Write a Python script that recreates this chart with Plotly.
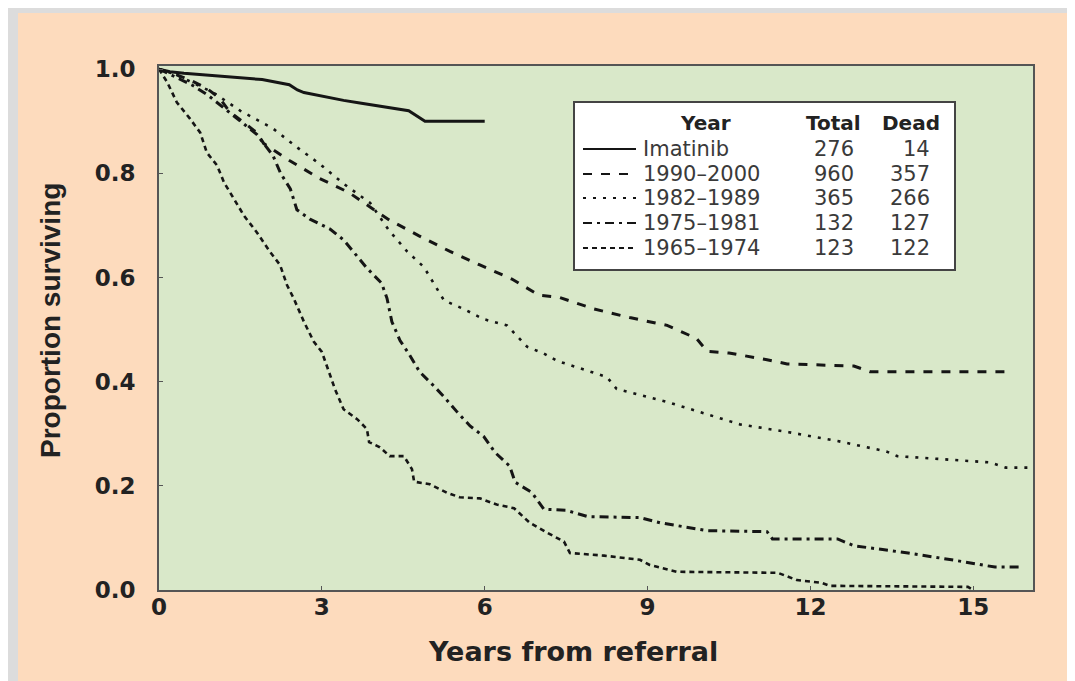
import plotly.graph_objects as go

# ---------------- data ----------------
imatinib_t = [0, 0.2, 0.46, 0.94, 1.9, 2.4, 2.55, 2.67, 2.9, 3.4, 3.7, 4.6, 4.9, 6.0]
imatinib_s = [1.0, 0.995, 0.992, 0.988, 0.98, 0.97, 0.96, 0.955, 0.95, 0.94, 0.935, 0.92, 0.90, 0.90]

y1990_t = [0, 0.3, 0.57, 0.88, 1.12, 1.31, 1.56, 1.8, 1.93, 2.41, 2.96, 3.5, 3.96, 4.25, 4.79,
           5.36, 5.91, 6.5, 7.0, 7.37, 8.0, 8.67, 9.36, 9.9, 10.1, 10.5, 11.2, 11.57, 12.8, 13.1, 15.6]
y1990_s = [1.0, 0.99, 0.979, 0.963, 0.944, 0.917, 0.898, 0.878, 0.857, 0.824, 0.79, 0.763, 0.73, 0.71, 0.68,
           0.65, 0.624, 0.597, 0.566, 0.562, 0.54, 0.523, 0.508, 0.483, 0.458, 0.455, 0.442, 0.434, 0.43, 0.419, 0.419]

y1982_t = [0, 0.3, 0.6, 1.0, 1.5, 2.1, 2.54, 2.96, 3.4, 3.89, 4.24, 4.57, 4.88, 5.06, 5.25, 5.6,
           5.98, 6.41, 6.78, 7.09, 7.33, 8.25, 8.43, 9.36, 10.7, 11.6, 12.5, 13.4, 13.6, 15.3, 15.6, 16.1]
y1982_s = [1.0, 0.99, 0.975, 0.955, 0.92, 0.886, 0.85, 0.818, 0.78, 0.743, 0.69, 0.65, 0.62, 0.589, 0.556, 0.54,
           0.52, 0.508, 0.467, 0.454, 0.44, 0.409, 0.386, 0.361, 0.318, 0.303, 0.286, 0.266, 0.257, 0.245, 0.235, 0.235]

y1975_t = [0, 0.3, 0.6, 0.9, 1.2, 1.5, 1.8, 1.93, 2.1, 2.24, 2.42, 2.54, 2.78, 3.15, 3.4, 3.6, 3.83,
           4.1, 4.2, 4.29, 4.44, 4.6, 4.8, 5.06, 5.25, 5.49, 5.73, 5.98, 6.19, 6.46, 6.56, 6.87, 7.09,
           7.5, 7.9, 8.86, 9.23, 10.1, 11.2, 11.3, 12.5, 12.8, 13.8, 14.6, 15.4, 15.9]
y1975_s = [1.0, 0.985, 0.97, 0.95, 0.925, 0.9, 0.875, 0.857, 0.834, 0.80, 0.77, 0.73, 0.712, 0.693, 0.672, 0.647, 0.618,
           0.589, 0.56, 0.515, 0.479, 0.454, 0.419, 0.392, 0.371, 0.342, 0.315, 0.295, 0.264, 0.238, 0.207, 0.187, 0.155,
           0.153, 0.141, 0.139, 0.129, 0.114, 0.112, 0.098, 0.098, 0.085, 0.071, 0.058, 0.044, 0.044]

y1965_t = [0, 0.15, 0.33, 0.57, 0.76, 0.88, 1.07, 1.2, 1.38, 1.57, 1.8, 2.04, 2.23, 2.36, 2.48, 2.67, 2.85,
           3.0, 3.13, 3.24, 3.4, 3.65, 3.83, 3.87, 4.07, 4.25, 4.51, 4.66, 4.7, 4.99, 5.3, 5.54, 5.91,
           6.22, 6.54, 6.83, 7.15, 7.46, 7.57, 8.2, 8.86, 9.04, 9.54, 11.4, 11.75, 12.2, 12.36, 14.9, 15.0]
y1965_s = [1.0, 0.975, 0.936, 0.905, 0.878, 0.84, 0.815, 0.782, 0.751, 0.718, 0.687, 0.65, 0.624, 0.585, 0.56, 0.515, 0.477,
           0.457, 0.419, 0.386, 0.347, 0.328, 0.309, 0.284, 0.274, 0.257, 0.257, 0.232, 0.208, 0.203, 0.187, 0.178, 0.176,
           0.164, 0.157, 0.129, 0.11, 0.093, 0.071, 0.066, 0.058, 0.048, 0.035, 0.033, 0.019, 0.014, 0.008, 0.006, 0.0]

series_names = ["Imatinib", "1990\u20132000", "1982\u20131989", "1975\u20131981", "1965\u20131974"]
series_total = [276, 960, 365, 132, 123]
series_dead = [14, 357, 266, 127, 122]

x_ticks = [0, 3, 6, 9, 12, 15]
y_ticks = [0.0, 0.2, 0.4, 0.6, 0.8, 1.0]

# ---------------- styles ----------------
series_data = [(imatinib_t, imatinib_s), (y1990_t, y1990_s), (y1982_t, y1982_s),
               (y1975_t, y1975_s), (y1965_t, y1965_s)]
dashes = ["solid", "9px,9px", "3px,7px", "9px,5px,3px,5px", "5px,4px"]
widths = [3, 3, 2.6, 3, 2.6]
INK = "#151515"
WIDE = "DejaVu Sans, Verdana, sans-serif"
NARROW = "Liberation Sans, Arial, sans-serif"

fig = go.Figure()
for (t, s), name, d, w in zip(series_data, series_names, dashes, widths):
    fig.add_trace(go.Scatter(x=t, y=s, mode="lines", name=name,
                             line=dict(color=INK, width=w, dash=d), showlegend=False))

W, H = 1075, 681
L, R, T, B = 151, 1025, 58, 582
pw, ph = R - L, B - T


def px(x):
    return (x - L) / pw


def py(y):
    return (B - y) / ph


tickfont = dict(size=23, family=WIDE, color="#222", weight="bold")
fig.update_layout(
    width=W, height=H,
    margin=dict(l=L, r=W - R, t=T, b=H - B, pad=0),
    paper_bgcolor="#FDDBBD",
    plot_bgcolor="#D9E8C9",
    font=dict(family=WIDE, color="#222"),
    xaxis=dict(range=[0, 16.1], tickvals=x_ticks, ticktext=[str(v) for v in x_ticks],
               showgrid=False, zeroline=False, showline=True, mirror=True,
               linecolor="#555", linewidth=2, ticks="inside", ticklen=4, tickcolor="#555",
               tickfont=tickfont, ticklabelstandoff=-5),
    yaxis=dict(range=[0, 1.006], tickvals=y_ticks, ticktext=["%.1f" % v for v in y_ticks],
               showgrid=False, zeroline=False, showline=True, mirror=True,
               linecolor="#555", linewidth=2, ticks="inside", ticklen=4, tickcolor="#555",
               tickfont=tickfont, ticklabelstandoff=17),
)

shapes = []
# gray frame strips of the figure (left and top)
shapes.append(dict(type="rect", xref="paper", yref="paper", x0=px(0), x1=px(10),
                   y0=py(H), y1=py(0), fillcolor="#DCDCDC", line=dict(width=0), layer="above"))
shapes.append(dict(type="rect", xref="paper", yref="paper", x0=px(0), x1=px(W),
                   y0=py(5), y1=py(0), fillcolor="#DCDCDC", line=dict(width=0), layer="above"))
# legend box
shapes.append(dict(type="rect", xref="paper", yref="paper", x0=px(566), x1=px(947),
                   y0=py(262), y1=py(94), fillcolor="white", line=dict(color="#444", width=2),
                   layer="above"))

annotations = []
hdr_y = py(115)
hdr_font = dict(size=20, color="#222", family=WIDE)
annotations.append(dict(x=px(697), y=hdr_y, xref="paper", yref="paper", text="<b>Year</b>",
                        showarrow=False, xanchor="center", yanchor="middle", font=hdr_font))
annotations.append(dict(x=px(855), y=hdr_y, xref="paper", yref="paper", text="<b>Total</b>",
                        showarrow=False, xanchor="right", yanchor="middle", font=hdr_font))
annotations.append(dict(x=px(934), y=hdr_y, xref="paper", yref="paper", text="<b>Dead</b>",
                        showarrow=False, xanchor="right", yanchor="middle", font=hdr_font))

row_font = dict(size=21, color="#3a3a3a", family=WIDE)
row_px = [141, 166, 190, 215, 240]
for rp, name, tot, dead, d, w in zip(row_px, series_names, series_total, series_dead, dashes, widths):
    yy = py(rp)
    shapes.append(dict(type="line", xref="paper", yref="paper", x0=px(575), x1=px(628),
                       y0=yy, y1=yy, line=dict(color=INK, width=2.2, dash=d), layer="above"))
    annotations.append(dict(x=px(633), y=yy, xref="paper", yref="paper", text=name,
                            showarrow=False, xanchor="left", yanchor="middle", font=row_font))
    annotations.append(dict(x=px(848), y=yy, xref="paper", yref="paper", text=str(tot),
                            showarrow=False, xanchor="right", yanchor="middle", font=row_font))
    annotations.append(dict(x=px(924), y=yy, xref="paper", yref="paper", text=str(dead),
                            showarrow=False, xanchor="right", yanchor="middle", font=row_font))

# axis titles
annotations.append(dict(x=px(565), y=py(643), xref="paper", yref="paper",
                        text="<b>Years from referral</b>", showarrow=False,
                        xanchor="center", yanchor="middle",
                        font=dict(size=27, color="#222", family=WIDE)))
annotations.append(dict(x=px(42), y=py(313), xref="paper", yref="paper",
                        text="<b>Proportion surviving</b>", showarrow=False, textangle=-90,
                        xanchor="center", yanchor="middle",
                        font=dict(size=28, color="#222", family=NARROW)))

fig.update_layout(shapes=shapes, annotations=annotations)
fig.write_html("out.html")
